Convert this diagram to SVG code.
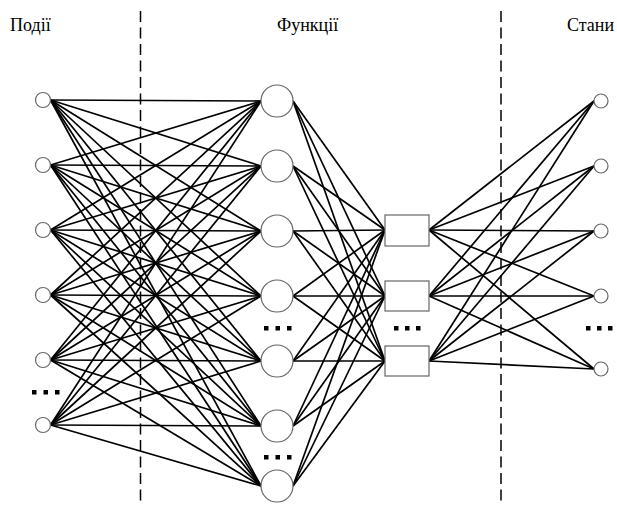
<svg xmlns="http://www.w3.org/2000/svg" width="617" height="506" viewBox="0 0 617 506">
<style>
.t{font-family:"Liberation Serif","Times New Roman",serif;font-size:18px;fill:#000}
.n{fill:#fff;stroke:#666;stroke-width:1.2}
.c line{stroke:#000;stroke-width:1.7}
.d{stroke:#000;stroke-width:1.5;stroke-dasharray:11 5.5}
.dot{fill:#000}
</style>
<rect width="617" height="506" fill="#fff"/>
<text class="t" x="10" y="31">Події</text>
<text class="t" x="277" y="31">Функції</text>
<text class="t" x="567" y="31">Стани</text>
<line class="d" x1="140.5" y1="11" x2="140.5" y2="506"/>
<line class="d" x1="501" y1="11" x2="501" y2="506"/>
<g id="connectors" class="c">
<line x1="50.5" y1="100" x2="261" y2="101"/><line x1="50.5" y1="100" x2="261" y2="166"/><line x1="50.5" y1="100" x2="261" y2="231"/><line x1="50.5" y1="100" x2="261" y2="296"/><line x1="50.5" y1="100" x2="261" y2="361"/><line x1="50.5" y1="100" x2="261" y2="426"/><line x1="50.5" y1="100" x2="261" y2="486"/>
<line x1="50.5" y1="165" x2="261" y2="101"/><line x1="50.5" y1="165" x2="261" y2="166"/><line x1="50.5" y1="165" x2="261" y2="231"/><line x1="50.5" y1="165" x2="261" y2="296"/><line x1="50.5" y1="165" x2="261" y2="361"/><line x1="50.5" y1="165" x2="261" y2="426"/><line x1="50.5" y1="165" x2="261" y2="486"/>
<line x1="50.5" y1="230" x2="261" y2="101"/><line x1="50.5" y1="230" x2="261" y2="166"/><line x1="50.5" y1="230" x2="261" y2="231"/><line x1="50.5" y1="230" x2="261" y2="296"/><line x1="50.5" y1="230" x2="261" y2="361"/><line x1="50.5" y1="230" x2="261" y2="426"/><line x1="50.5" y1="230" x2="261" y2="486"/>
<line x1="50.5" y1="295" x2="261" y2="101"/><line x1="50.5" y1="295" x2="261" y2="166"/><line x1="50.5" y1="295" x2="261" y2="231"/><line x1="50.5" y1="295" x2="261" y2="296"/><line x1="50.5" y1="295" x2="261" y2="361"/><line x1="50.5" y1="295" x2="261" y2="426"/><line x1="50.5" y1="295" x2="261" y2="486"/>
<line x1="50.5" y1="360" x2="261" y2="101"/><line x1="50.5" y1="360" x2="261" y2="166"/><line x1="50.5" y1="360" x2="261" y2="231"/><line x1="50.5" y1="360" x2="261" y2="296"/><line x1="50.5" y1="360" x2="261" y2="361"/><line x1="50.5" y1="360" x2="261" y2="426"/><line x1="50.5" y1="360" x2="261" y2="486"/>
<line x1="50.5" y1="425" x2="261" y2="101"/><line x1="50.5" y1="425" x2="261" y2="166"/><line x1="50.5" y1="425" x2="261" y2="231"/><line x1="50.5" y1="425" x2="261" y2="296"/><line x1="50.5" y1="425" x2="261" y2="361"/><line x1="50.5" y1="425" x2="261" y2="426"/><line x1="50.5" y1="425" x2="261" y2="486"/>
<line x1="293" y1="101" x2="385" y2="230"/><line x1="293" y1="101" x2="385" y2="296"/><line x1="293" y1="101" x2="385" y2="361"/>
<line x1="293" y1="166" x2="385" y2="230"/><line x1="293" y1="166" x2="385" y2="296"/><line x1="293" y1="166" x2="385" y2="361"/>
<line x1="293" y1="231" x2="385" y2="230"/><line x1="293" y1="231" x2="385" y2="296"/><line x1="293" y1="231" x2="385" y2="361"/>
<line x1="293" y1="296" x2="385" y2="230"/><line x1="293" y1="296" x2="385" y2="296"/><line x1="293" y1="296" x2="385" y2="361"/>
<line x1="293" y1="361" x2="385" y2="230"/><line x1="293" y1="361" x2="385" y2="296"/><line x1="293" y1="361" x2="385" y2="361"/>
<line x1="293" y1="426" x2="385" y2="230"/><line x1="293" y1="426" x2="385" y2="296"/><line x1="293" y1="426" x2="385" y2="361"/>
<line x1="293" y1="486" x2="385" y2="230"/><line x1="293" y1="486" x2="385" y2="296"/><line x1="293" y1="486" x2="385" y2="361"/>
<line x1="429" y1="230" x2="594" y2="101"/><line x1="429" y1="230" x2="594" y2="166"/><line x1="429" y1="230" x2="594" y2="231"/><line x1="429" y1="230" x2="594" y2="296"/><line x1="429" y1="230" x2="594" y2="369"/>
<line x1="429" y1="296" x2="594" y2="101"/><line x1="429" y1="296" x2="594" y2="166"/><line x1="429" y1="296" x2="594" y2="231"/><line x1="429" y1="296" x2="594" y2="296"/><line x1="429" y1="296" x2="594" y2="369"/>
<line x1="429" y1="361" x2="594" y2="101"/><line x1="429" y1="361" x2="594" y2="166"/><line x1="429" y1="361" x2="594" y2="231"/><line x1="429" y1="361" x2="594" y2="296"/><line x1="429" y1="361" x2="594" y2="369"/>
</g>
<g id="e1"><circle class="n" cx="43" cy="100" r="7.5"/></g>
<g id="e2"><circle class="n" cx="43" cy="165" r="7.5"/></g>
<g id="e3"><circle class="n" cx="43" cy="230" r="7.5"/></g>
<g id="e4"><circle class="n" cx="43" cy="295" r="7.5"/></g>
<g id="e5"><circle class="n" cx="43" cy="360" r="7.5"/></g>
<g id="e6"><circle class="n" cx="43" cy="425" r="7.5"/></g>
<g id="e-dots"><rect class="dot" x="32" y="390" width="4.5" height="4.5"/><rect class="dot" x="43.5" y="390" width="4.5" height="4.5"/><rect class="dot" x="55" y="390" width="4.5" height="4.5"/></g>
<g id="f1"><circle class="n" cx="277" cy="101" r="16"/></g>
<g id="f2"><circle class="n" cx="277" cy="166" r="16"/></g>
<g id="f3"><circle class="n" cx="277" cy="231" r="16"/></g>
<g id="f4"><circle class="n" cx="277" cy="296" r="16"/></g>
<g id="f5"><circle class="n" cx="277" cy="361" r="16"/></g>
<g id="f6"><circle class="n" cx="277" cy="426" r="16"/></g>
<g id="f7"><circle class="n" cx="277" cy="486" r="16"/></g>
<g id="f-dots1"><rect class="dot" x="264" y="326" width="4.5" height="4.5"/><rect class="dot" x="275.5" y="326" width="4.5" height="4.5"/><rect class="dot" x="287" y="326" width="4.5" height="4.5"/></g>
<g id="f-dots2"><rect class="dot" x="264" y="455" width="4.5" height="4.5"/><rect class="dot" x="275.5" y="455" width="4.5" height="4.5"/><rect class="dot" x="287" y="455" width="4.5" height="4.5"/></g>
<g id="r1"><rect class="n" x="385" y="215" width="44" height="31"/></g>
<g id="r2"><rect class="n" x="385" y="281" width="44" height="30"/></g>
<g id="r3"><rect class="n" x="385" y="346" width="44" height="30"/></g>
<g id="r-dots"><rect class="dot" x="394" y="326" width="4.5" height="4.5"/><rect class="dot" x="405" y="326" width="4.5" height="4.5"/><rect class="dot" x="416" y="326" width="4.5" height="4.5"/></g>
<g id="s1"><circle class="n" cx="601" cy="101" r="7"/></g>
<g id="s2"><circle class="n" cx="601" cy="166" r="7"/></g>
<g id="s3"><circle class="n" cx="601" cy="231" r="7"/></g>
<g id="s4"><circle class="n" cx="601" cy="296" r="7"/></g>
<g id="s5"><circle class="n" cx="601" cy="369" r="7"/></g>
<g id="s-dots"><rect class="dot" x="586" y="326" width="4.5" height="4.5"/><rect class="dot" x="597" y="326" width="4.5" height="4.5"/><rect class="dot" x="608" y="326" width="4.5" height="4.5"/></g>
</svg>
